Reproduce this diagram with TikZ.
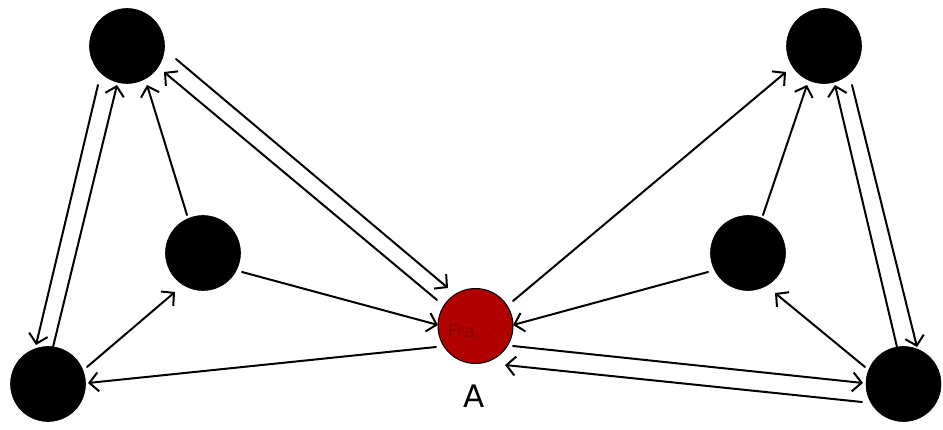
\documentclass[tikz,border=0pt]{standalone}
\usepackage{fontspec}
\setmainfont{DejaVu Sans}
\usetikzlibrary{arrows.meta,calc}
\definecolor{nodered}{RGB}{176,0,0}
\definecolor{textred}{RGB}{140,0,0}
\tikzset{
  blacknode/.style={circle, fill=black, draw=black, line width=0.6pt, minimum size=75pt, inner sep=0pt},
  rednode/.style={circle, fill=nodered, draw=black, line width=1pt, minimum size=75pt, inner sep=0pt},
  edge/.style={line width=2pt, line cap=round, -{Straight Barb[length=9pt,width=19pt,line width=2pt]}}
}
\begin{document}
\begin{tikzpicture}[x=1pt,y=-1pt]
\useasboundingbox (0,0) rectangle (943,430);
\node[blacknode] (TL) at (127,46) {};
\node[blacknode] (ML) at (203,253) {};
\node[blacknode] (BL) at (48,384) {};
\node[rednode] (A) at (475.5,326) {};
\node[font=\fontsize{18}{20}\selectfont, text=textred] (Alab) at (470,331) {Fra...};
\node[font=\fontsize{31}{34}\selectfont] (Aname) at (474,396) {A};
\node[blacknode] (TR) at (824,46) {};
\node[blacknode] (MR) at (748,253) {};
\node[blacknode] (BR) at (903.5,384) {};
% left side
\draw[edge] ($(TL)+(-29,39)$) -- ($(BL)+(-12,-39)$);
\draw[edge] ($(BL)+(5,-37)$) -- ($(TL)+(-10,39)$);
\draw[edge] ($(ML)+(-16,-38)$) -- ($(TL)+(20,39)$);
\draw[edge] ($(BL)+(39,-17)$) -- ($(ML)+(-28,39)$);
\draw[edge] ($(ML)+(39,19)$) -- ($(A)+(-37.5,-1)$);
\draw[edge] ($(A)+(-39.5,21)$) -- ($(BL)+(40,-1)$);
\draw[edge] ($(TL)+(49,13)$) -- ($(A)+(-27.5,-38)$);
\draw[edge] ($(A)+(-38.5,-26)$) -- ($(TL)+(37,26)$);
% right side
\draw[edge] ($(A)+(37.5,-25)$) -- ($(TR)+(-38,26)$);
\draw[edge] ($(MR)+(15,-38)$) -- ($(TR)+(-17,39)$);
\draw[edge] ($(BR)+(-6.5,-37)$) -- ($(TR)+(11,39)$);
\draw[edge] ($(TR)+(28,39)$) -- ($(BR)+(13.5,-37)$);
\draw[edge] ($(BR)+(-38.5,-17)$) -- ($(MR)+(27,40)$);
\draw[edge] ($(MR)+(-40,19)$) -- ($(A)+(37.5,-1)$);
\draw[edge] ($(A)+(37.5,20)$) -- ($(BR)+(-40.5,-1)$);
\draw[edge] ($(BR)+(-41.5,18)$) -- ($(A)+(29.5,39)$);
\end{tikzpicture}
\end{document}
